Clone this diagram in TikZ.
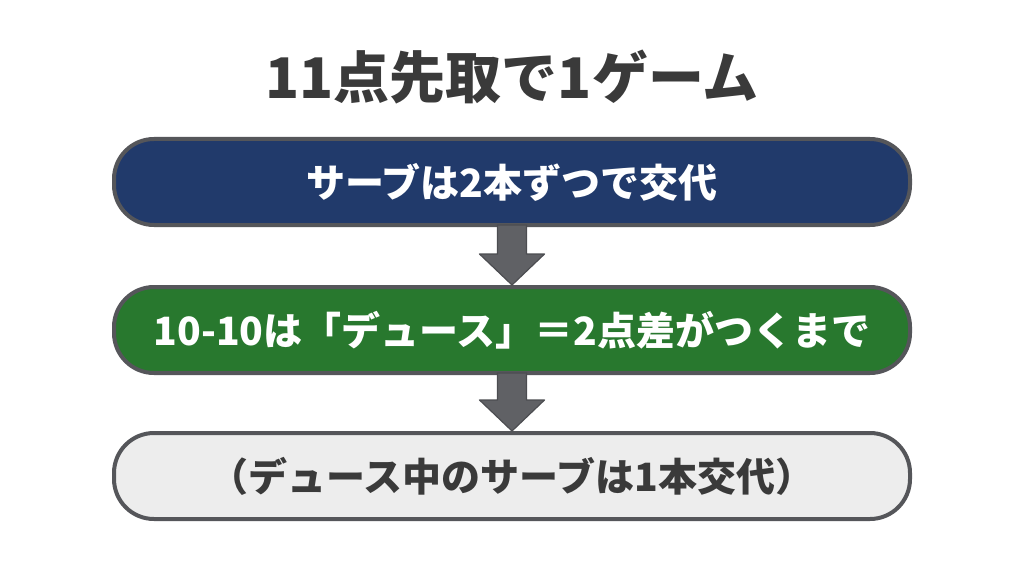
\documentclass[tikz,border=0pt]{standalone}
\usepackage{fontspec}
\usepackage{xcolor}
\usetikzlibrary{calc}
\newfontfamily\cjk{Noto Sans CJK JP}

\definecolor{boxblue}{RGB}{33,58,107}
\definecolor{boxgreen}{RGB}{40,120,46}
\definecolor{boxgray}{RGB}{237,237,237}
\definecolor{edgegray}{RGB}{85,86,90}
\definecolor{arrowgray}{RGB}{96,97,101}
\definecolor{titlegray}{RGB}{58,58,58}

\begin{document}
\begin{tikzpicture}[x=1pt,y=1pt,yscale=-1,xscale=1,
  stepbox/.style={draw=edgegray,line width=4pt,rounded corners=40pt,
    minimum width=796pt,minimum height=86pt,inner sep=0pt,
    font=\cjk\bfseries\fontsize{39}{45}\selectfont},
  flowarrow/.style={fill=arrowgray,draw=edgegray!90!black,line width=1.2pt,line join=round}]
\useasboundingbox (0,0) rectangle (1024,572);
\fill[white] (0,0) rectangle (1024,572);

% Text Node
\node[text=titlegray,font=\cjk\bfseries\fontsize{56}{64}\selectfont] (title) at (512,77) {11点先取で1ゲーム};

%Shape: Rounded Rect
\node[stepbox,fill=boxblue,text=white] (serve) at (512,182) {サーブは2本ずつで交代};
%Shape: Rounded Rect
\node[stepbox,fill=boxgreen,text=white] (deuce) at (512,330) {10-10は「デュース」＝2点差がつくまで};
%Shape: Rounded Rect
\node[stepbox,fill=boxgray,text=titlegray] (note) at (512,476) {（デュース中のサーブは1本交代）};

%Shape: Down Arrow
\filldraw[flowarrow] ($(serve.south)+(-14.5,-2)$) -- ($(deuce.north)+(-14.5,-31)$) -- ($(deuce.north)+(-32.5,-31)$) -- (deuce.north) -- ($(deuce.north)+(32.5,-31)$) -- ($(deuce.north)+(14.5,-31)$) -- ($(serve.south)+(14.5,-2)$) -- cycle;
%Shape: Down Arrow
\filldraw[flowarrow] ($(deuce.south)+(-14.5,-2)$) -- ($(note.north)+(-14.5,-31)$) -- ($(note.north)+(-32.5,-31)$) -- (note.north) -- ($(note.north)+(32.5,-31)$) -- ($(note.north)+(14.5,-31)$) -- ($(deuce.south)+(14.5,-2)$) -- cycle;

\end{tikzpicture}
\end{document}
